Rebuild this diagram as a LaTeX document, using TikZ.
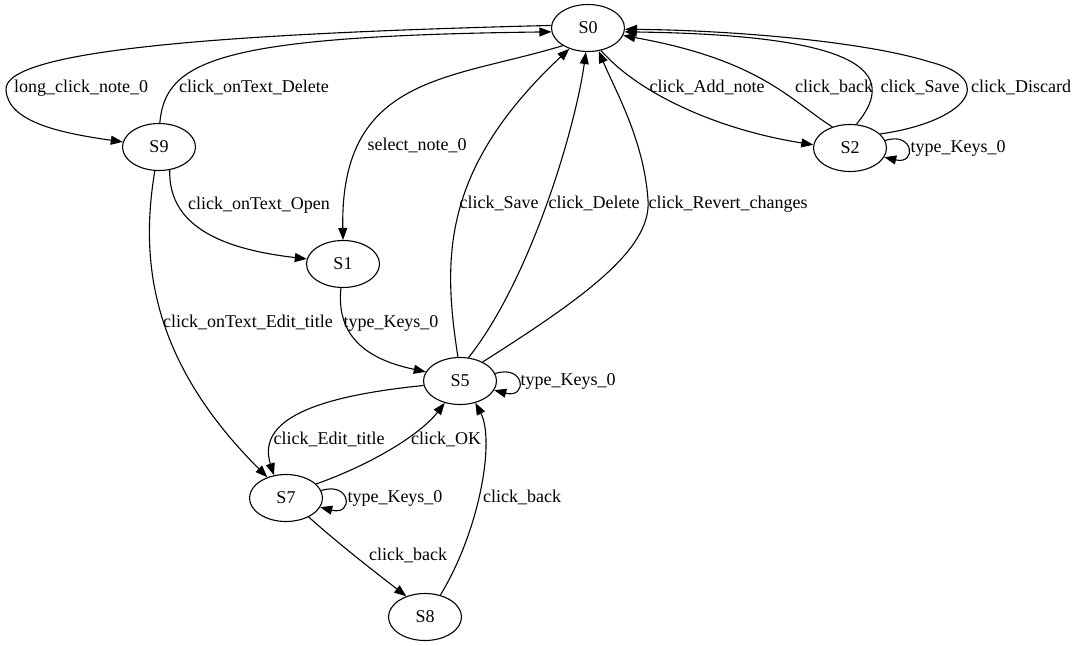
\documentclass[tikz,border=0pt]{standalone}
\usepackage{fontspec}
\setmainfont{Liberation Serif}
\usetikzlibrary{arrows.meta,shapes.geometric}

\begin{document}
\begin{tikzpicture}[x=1pt,y=-1pt,state/.style={draw,ellipse,line width=1.1pt,minimum width=73pt,minimum height=47pt,inner sep=0pt,font=\fontsize{18}{20}\selectfont},rel/.style={draw,line width=1.1pt,-{Triangle[length=12pt,width=9pt]}},lbl/.style={inner sep=0pt,font=\fontsize{18}{20}\selectfont,text height=12pt,text depth=4pt}]
\useasboundingbox (0,0) rectangle (1078,645);
\node[state] (s0) at (588,28) {S0};
\node[state] (s9) at (159,147) {S9};
\node[state] (s2) at (850,148) {S2};
\node[state] (s1) at (343,264) {S1};
\node[state] (s5) at (460,381) {S5};
\node[state] (s7) at (286,498) {S7};
\node[state] (s8) at (425,617) {S8};
\draw[rel] (s0.176) .. controls (250,33) and (2,48) .. (6,90) .. controls (8,122) and (60,133) .. (s9.172);
\draw[rel] (s9.88) .. controls (165,60) and (220,36) .. (s0.186);
\draw[rel] (s0.215) .. controls (450,80) and (340,75) .. (s1.north);
\draw[rel] (s0.-60) .. controls (640,95) and (720,130) .. (s2.175);
\draw[rel] (s2.130) .. controls (790,100) and (760,60) .. (s0.-12);
\draw[rel] (s2.75) .. controls (900,72) and (862,35) .. (s0.-6);
\draw[rel] (s2.25) .. controls (965,122) and (1000,80) .. (930,62) .. controls (860,40) and (720,30) .. (s0.-2);
\draw[rel] (s2.12) .. controls (914,131) and (917,165) .. (s2.-15);
\draw[rel] (s9.-65) .. controls (168,230) and (230,250) .. (s1.172);
\draw[rel] (s9.-100) .. controls (140,260) and (150,360) .. (s7.132);
\draw[rel] (s1.-95) .. controls (335,345) and (380,362) .. (s5.165);
\draw[rel] (s5.95) .. controls (443,260) and (440,170) .. (s0.228);
\draw[rel] (s5.70) .. controls (530,280) and (575,130) .. (s0.-95);
\draw[rel] (s5.40) .. controls (580,300) and (652,250) .. (648,200) .. controls (644,140) and (615,90) .. (s0.-65);
\draw[rel] (s5.12) .. controls (525,364) and (528,399) .. (s5.-15);
\draw[rel] (s5.187) .. controls (330,395) and (255,415) .. (s7.118);
\draw[rel] (s7.25) .. controls (370,465) and (420,435) .. (s5.235);
\draw[rel] (s7.12) .. controls (351,481) and (354,516) .. (s7.-15);
\draw[rel] (s7.-40) .. controls (340,545) and (375,572) .. (s8.132);
\draw[rel] (s8.55) .. controls (480,530) and (495,440) .. (s5.-55);
\node[lbl] (l1) at (81,88) {long\_click\_note\_0};
\node[lbl] (l2) at (254,88) {click\_onText\_Delete};
\node[lbl] (l3) at (417,146) {select\_note\_0};
\node[lbl] (l4) at (707,88) {click\_Add\_note};
\node[lbl] (l5) at (834,88) {click\_back};
\node[lbl] (l6) at (920,88) {click\_Save};
\node[lbl] (l7) at (1021,88) {click\_Discard};
\node[lbl] (l8) at (958,148) {type\_Keys\_0};
\node[lbl] (l9) at (259,205) {click\_onText\_Open};
\node[lbl] (l10) at (499,204) {click\_Save};
\node[lbl] (l11) at (594,204) {click\_Delete};
\node[lbl] (l12) at (728,204) {click\_Revert\_changes};
\node[lbl] (l13) at (248,323) {click\_onText\_Edit\_title};
\node[lbl] (l14) at (391,323) {type\_Keys\_0};
\node[lbl] (l15) at (568,381) {type\_Keys\_0};
\node[lbl] (l16) at (329,440) {click\_Edit\_title};
\node[lbl] (l17) at (446,440) {click\_OK};
\node[lbl] (l18) at (395,498) {type\_Keys\_0};
\node[lbl] (l19) at (522,498) {click\_back};
\node[lbl] (l20) at (408,556) {click\_back};
\end{tikzpicture}
\end{document}
